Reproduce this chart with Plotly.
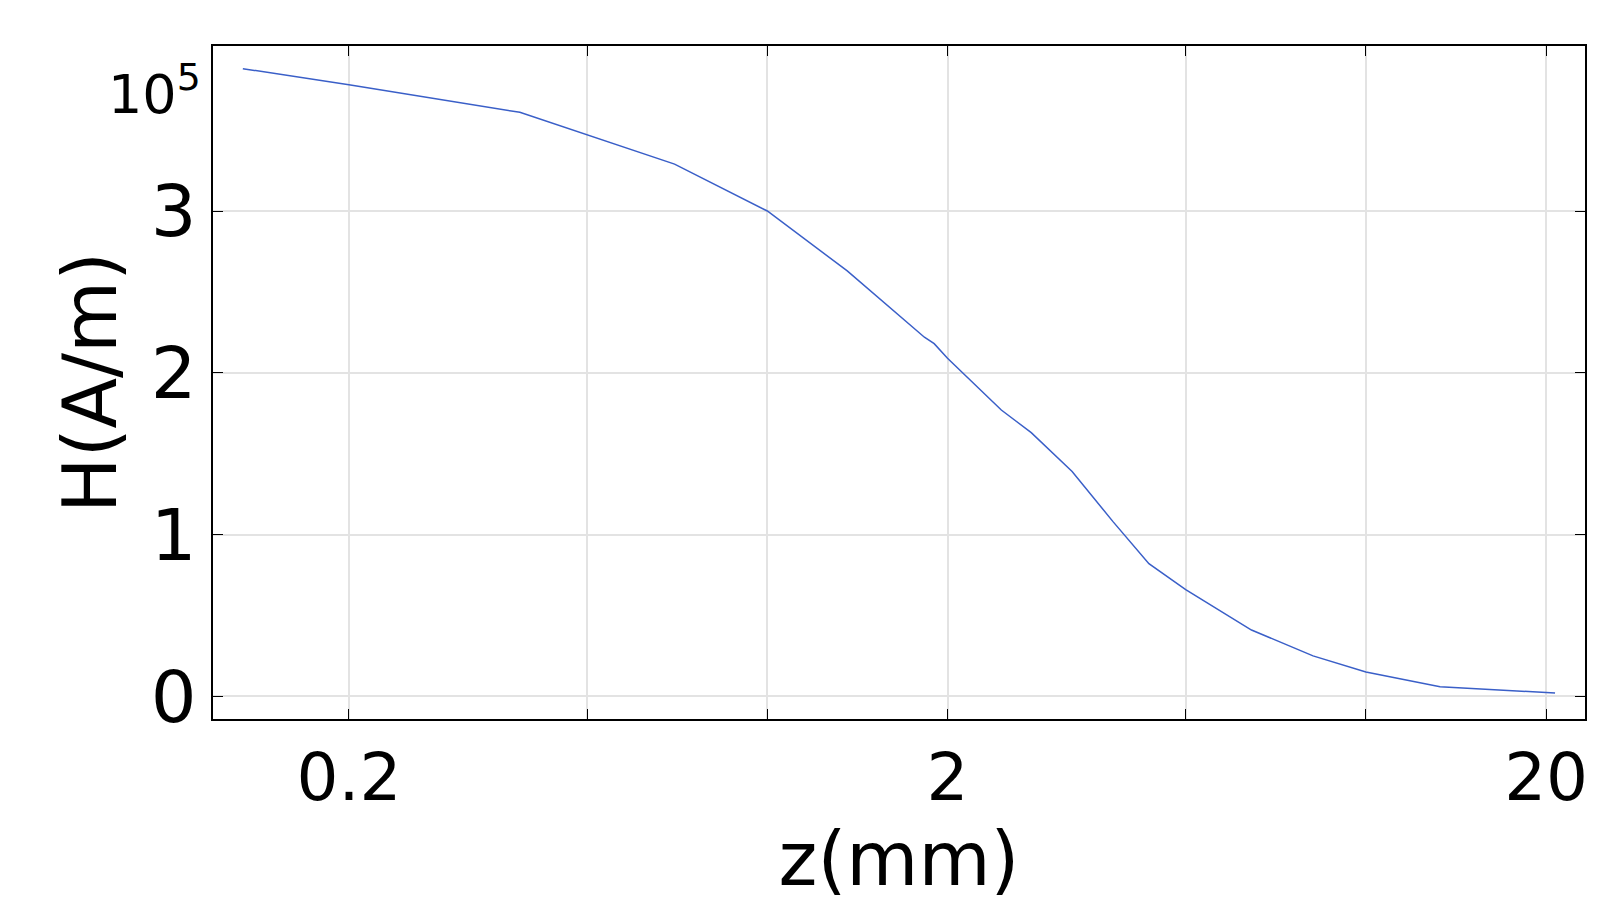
import plotly.graph_objects as go

# data
z_mm = [0.133, 0.2, 0.386, 0.70, 1.0, 1.36, 1.83, 1.90, 2.0, 2.46, 2.76, 3.23, 3.78, 4.34,
        5.0, 6.44, 8.16, 10.0, 13.3, 20.7]
h_1e5 = [3.88, 3.78, 3.61, 3.29, 3.0, 2.63, 2.22, 2.18, 2.09, 1.77, 1.63, 1.39, 1.08, 0.82,
         0.66, 0.41, 0.25, 0.15, 0.06, 0.02]
x_grid = [0.2, 0.5, 1, 2, 5, 10, 20]
x_labels = ["0.2", "", "", "2", "", "", "20"]

fig = go.Figure(go.Scatter(x=z_mm, y=h_1e5, mode="lines",
                           line=dict(color="#3a5fc8", width=1.5)))

fig.update_layout(
    width=1613, height=919, plot_bgcolor="white", paper_bgcolor="white",
    margin=dict(l=205, r=36, t=38, b=208), showlegend=False,
    font=dict(family="DejaVu Sans", color="black", size=62),
)
fig.update_xaxes(type="log", range=[-0.926, 1.366], tickvals=x_grid, ticktext=x_labels,
                 tickfont=dict(size=66),
                 showgrid=True, gridcolor="#e3e3e3", gridwidth=2,
                 showline=True, linecolor="black", linewidth=2, mirror="ticks",
                 ticks="inside", ticklen=10, tickcolor="black",
                 title=dict(text="z(mm)", standoff=0), zeroline=False)
fig.update_yaxes(range=[-0.14, 4.02], tickvals=[0, 1, 2, 3], tickfont=dict(size=72),
                 showgrid=True, gridcolor="#e3e3e3", gridwidth=2,
                 showline=True, linecolor="black", linewidth=2, mirror="ticks",
                 ticks="inside", ticklen=10, tickcolor="black",
                 title=dict(text="H(A/m)", standoff=10), zeroline=False)
fig.add_annotation(text="10<sup>5</sup>", xref="paper", yref="paper", x=0, y=0.99,
                   xanchor="right", yanchor="top", xshift=-10, showarrow=False,
                   font=dict(size=54))

fig.write_html("out.html")
